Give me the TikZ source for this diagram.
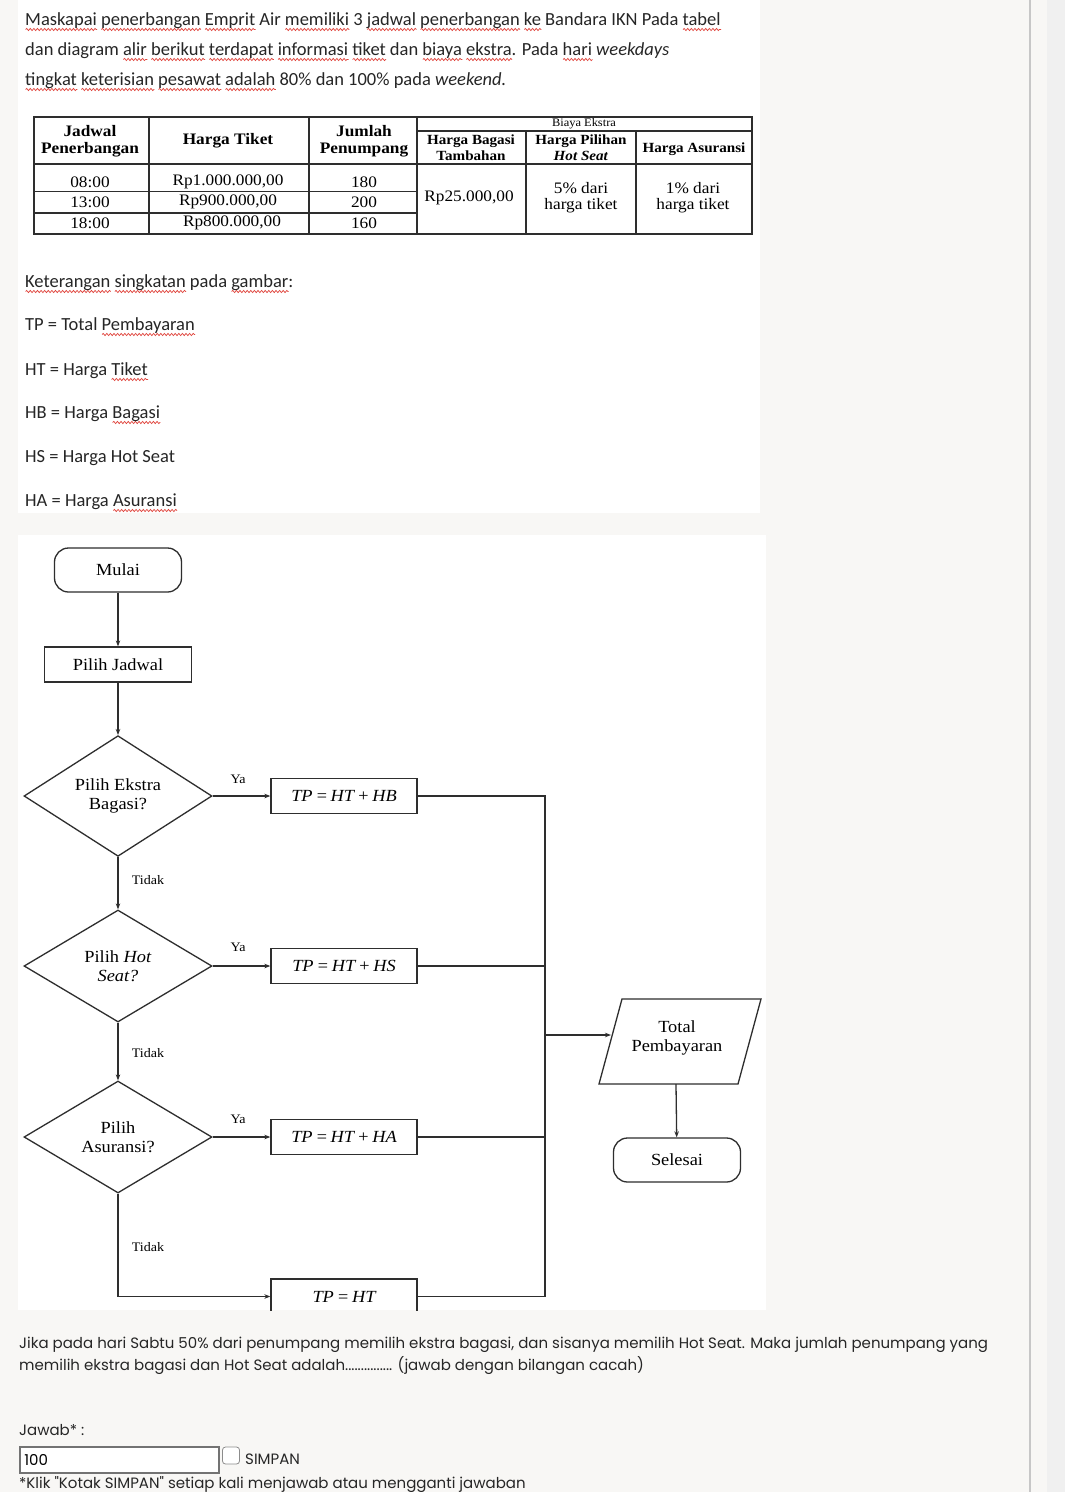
\documentclass[tikz,border=0pt]{standalone}
\usepackage{fontspec}
\usetikzlibrary{shapes.geometric,arrows.meta,decorations.pathmorphing}
\setmainfont{Liberation Serif}[FakeStretch=1.08]
\newfontfamily\calibri{Carlito}
\newfontfamily\webfont{Poppins}
\definecolor{ink}{HTML}{2E2E2E}
\definecolor{pagebg}{HTML}{F8F7F5}
\definecolor{spell}{HTML}{E0443C}
\newsavebox\sqbox
\newcommand\sq[1]{\sbox\sqbox{#1}\rlap{\tikz[baseline=0pt,x=1pt,y=1pt]\draw[spell,line width=0.7pt,decorate,decoration={snake,segment length=3.6pt,amplitude=1.1pt}] (0,-4.5) -- (\wd\sqbox,-4.5);}\usebox\sqbox}

\begin{document}
\begin{tikzpicture}[x=1pt,y=-1pt,>={Stealth[length=6pt,width=4.5pt]},
  line/.style={draw=ink,line width=1.3pt},
  tline/.style={draw=ink,line width=1.2pt},
  proc/.style={draw=ink,line width=1.3pt,minimum width=146pt,minimum height=35pt,inner sep=0pt,font=\itshape\fontsize{17}{19}\selectfont},
  term/.style={draw=ink,line width=1.3pt,rounded corners=14pt,minimum width=127pt,minimum height=44pt,inner sep=0pt,font=\fontsize{17}{19}\selectfont},
  cond/.style={diamond,draw=ink,line width=1.3pt,minimum width=188pt,minimum height=112pt,inner sep=0pt,align=center,font=\fontsize{17}{19}\selectfont},
  lbl/.style={inner sep=0pt,font=\fontsize{13}{15}\selectfont},
  thead/.style={inner sep=0pt,align=center,font=\bfseries\fontsize{16}{17}\selectfont},
  shead/.style={inner sep=0pt,align=center,font=\bfseries\fontsize{14}{16}\selectfont},
  tcell/.style={inner sep=0pt,align=center,font=\fontsize{16}{16}\selectfont},
  note/.style={anchor=base west,inner sep=0pt,text=black!85,font=\calibri\fontsize{18.5}{20}\selectfont},
  web/.style={anchor=base west,inner sep=0pt,text=black!85,font=\webfont\fontsize{15}{17}\selectfont}]
\fill[pagebg] (0,0) rectangle (1065,1492);
\useasboundingbox (0,0) rectangle (1065,1492);
\fill[white] (18,0) rectangle (760,513);
\fill[white] (18,535) rectangle (766,1310);
\fill[black!6] (1047,0) rectangle (1065,1492);
\draw[black!22,line width=1.2pt] (1030,0) -- (1030,1492);

\node[note] (h1) at (25,25) {\sq{Maskapai} \sq{penerbangan} \sq{Emprit} Air \sq{memiliki} 3 \sq{jadwal} \sq{penerbangan} \sq{ke} Bandara IKN Pada \sq{tabel}};
\node[note] (h2) at (25,55) {dan diagram \sq{alir} \sq{berikut} \sq{terdapat} \sq{informasi} \sq{tiket} dan \sq{biaya} \sq{ekstra}. Pada \sq{hari} \textit{weekdays}};
\node[note] (h3) at (25,85) {\sq{tingkat} \sq{keterisian} \sq{pesawat} \sq{adalah} 80\% dan 100\% pada \textit{weekend.}};

\draw[tline] (34,117) rectangle (752,234);
\draw[tline] (34,164) -- (752,164) (417,131) -- (752,131) (34,191.5) -- (417,191.5) (34,213) -- (417,213);
\draw[tline] (149,117) -- (149,234) (309,117) -- (309,234) (417,117) -- (417,234) (526,131) -- (526,234) (636,131) -- (636,234);
\node[thead] (jad) at (90,141) {Jadwal\\Penerbangan};
\node[thead] (hrg) at (228,141) {Harga Tiket};
\node[thead] (jml) at (364,141) {Jumlah\\Penumpang};
\node[tcell,font=\fontsize{11.5}{12}\selectfont] (biaya) at (584,124) {Biaya Ekstra};
\node[shead] (hbag) at (471,148) {Harga Bagasi\\Tambahan};
\node[shead] (hpil) at (581,148) {Harga Pilihan\\\textit{Hot Seat}};
\node[shead] (hasu) at (694,149) {Harga Asuransi};
\node[tcell] (j1) at (90,182) {08:00};
\node[tcell] (j2) at (90,202) {13:00};
\node[tcell] (j3) at (90,223) {18:00};
\node[tcell] (p1) at (228,182) {Rp1.000.000,00};
\node[tcell] (p2) at (228,202) {Rp900.000,00};
\node[tcell] (p3) at (232,223) {Rp800.000,00};
\node[tcell] (n1) at (364,182) {180};
\node[tcell] (n2) at (364,202) {200};
\node[tcell] (n3) at (364,223) {160};
\node[tcell] (bag) at (469,198) {Rp25.000,00};
\node[tcell] (hs) at (581,198) {5\% dari\\harga tiket};
\node[tcell] (asu) at (693,198) {1\% dari\\harga tiket};

\node[note] (k0) at (25,287) {\sq{Keterangan} \sq{singkatan} pada \sq{gambar}:};
\node[note] (k1) at (25,330) {TP = Total \sq{Pembayaran}};
\node[note] (k2) at (25,375) {HT = Harga \sq{Tiket}};
\node[note] (k3) at (25,418) {HB = Harga \sq{Bagasi}};
\node[note] (k4) at (25,462) {HS = Harga Hot Seat};
\node[note] (k5) at (25,506) {HA = Harga \sq{Asuransi}};

\begin{scope}
\clip (18,535) rectangle (766,1310);
\node[term] (mulai) at (118,570) {Mulai};
\node[proc,minimum width=147pt,font=\fontsize{17}{19}\selectfont] (jadwal) at (118,664.5) {Pilih Jadwal};
\node[cond] (d1) at (118,796) {Pilih Ekstra\\Bagasi?};
\node[proc] (b1) at (344,796) {TP\,=\,HT\,+\,HB};
\node[cond] (d2) at (118,966) {Pilih \textit{Hot}\\\textit{Seat?}};
\node[proc] (b2) at (344,966) {TP\,=\,HT\,+\,HS};
\node[cond] (d3) at (118,1137) {Pilih\\Asuransi?};
\node[proc] (b3) at (344,1137) {TP\,=\,HT\,+\,HA};
\node[proc] (b4) at (344,1296.5) {TP\,=\,HT};
\node[lbl] (ya1) at (238,779) {Ya};
\node[lbl] (ya2) at (238,947) {Ya};
\node[lbl] (ya3) at (238,1119) {Ya};
\node[lbl] (td1) at (148,880) {Tidak};
\node[lbl] (td2) at (148,1053) {Tidak};
\node[lbl] (td3) at (148,1247) {Tidak};
\coordinate (jn) at (545,1035);
\coordinate (totin) at (611,1035);
\coordinate (totout) at (676,1084);
\draw[line] (599,1084) -- (622,999) -- (761,999) -- (738,1084) -- cycle;
\node[align=center,inner sep=0pt,font=\fontsize{17}{19}\selectfont] (tot) at (677,1038) {Total\\Pembayaran};
\node[term] (selesai) at (677,1160) {Selesai};
\draw[line,->] (mulai) -- (jadwal);
\draw[line,->] (jadwal) -- (d1);
\draw[line,->] (d1) -- (b1);
\draw[line,->] (d2) -- (b2);
\draw[line,->] (d3) -- (b3);
\draw[line,->] (d1) -- (d2);
\draw[line,->] (d2) -- (d3);
\draw[line,->] (d3) |- (b4);
\draw[line] (b1) -| (jn);
\draw[line] (b2) -| (jn);
\draw[line] (b3) -| (jn);
\draw[line] (b4) -| (jn);
\draw[line,->] (jn) -- (totin);
\draw[line,->] (totout) -- (selesai);
\end{scope}

\node[web] (q1) at (19,1348) {Jika pada hari Sabtu 50\% dari penumpang memilih ekstra bagasi, dan sisanya memilih Hot Seat. Maka jumlah penumpang yang};
\node[web] (q2) at (19,1370) {memilih ekstra bagasi dan Hot Seat adalah............... (jawab dengan bilangan cacah)};
\node[web] (jawab) at (19,1435) {Jawab* :};
\node[draw=black!55,line width=1.6pt,fill=white,anchor=north west,minimum width=199pt,minimum height=26pt,text width=190pt,align=left,inner sep=3pt,font=\webfont\fontsize{15}{17}\selectfont] (inp) at (19,1446) {100};
\node[draw=black!45,line width=0.8pt,fill=white,rounded corners=3pt,minimum size=17pt,inner sep=0pt] (cb) at (231,1455.5) {};
\node[web] (simpan) at (245,1464) {SIMPAN};
\node[web] (klik) at (19,1488) {*Klik "Kotak SIMPAN" setiap kali menjawab atau mengganti jawaban};
\end{tikzpicture}
\end{document}
